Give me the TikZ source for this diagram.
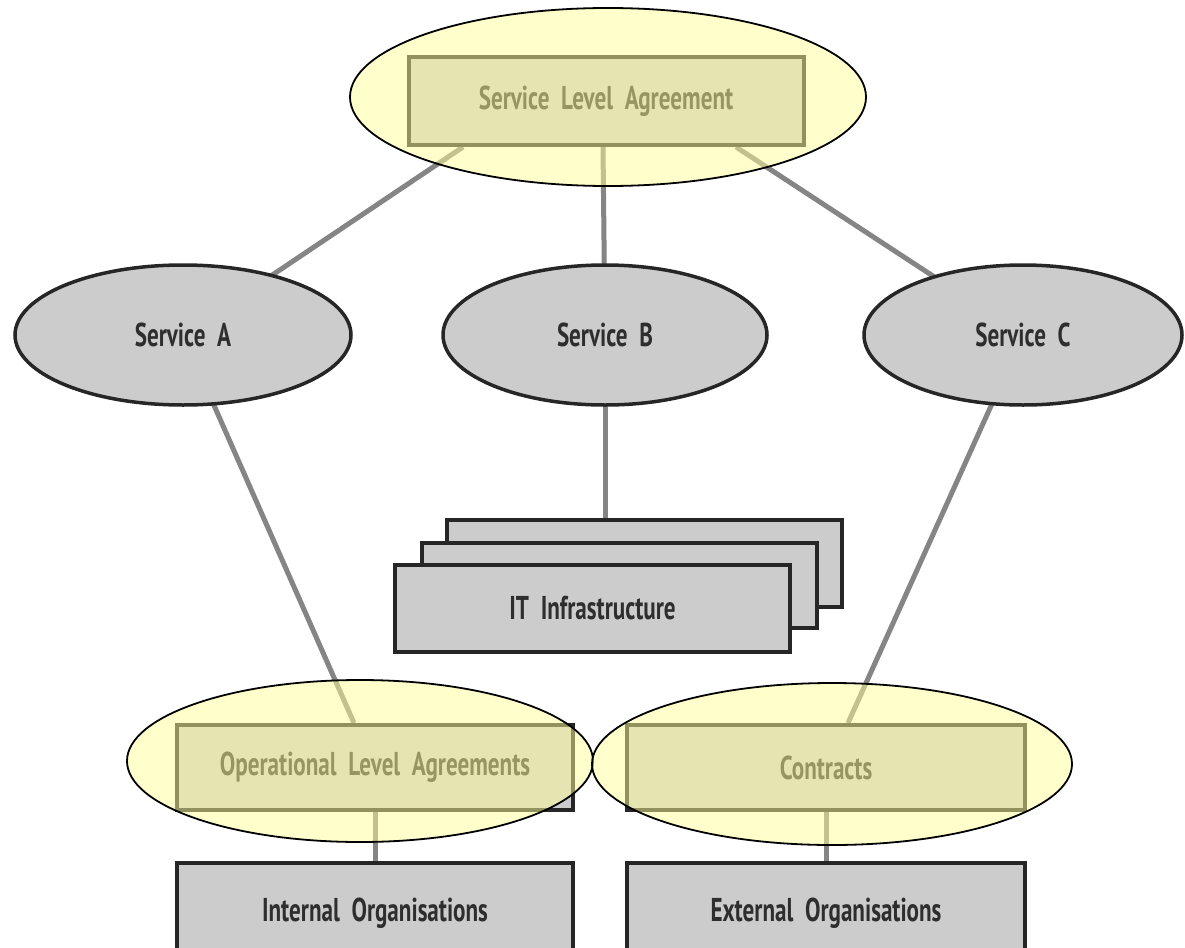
\documentclass[tikz,border=0pt]{standalone}
\usepackage{fontspec}
\setmainfont{PT Sans}[FakeStretch=0.70, WordSpace=2.0]
\usetikzlibrary{shapes.geometric,calc}
\pgfdeclarelayer{background}
\pgfsetlayers{background,main}
\definecolor{boxgray}{HTML}{CCCCCC}
\definecolor{linegray}{HTML}{858585}
\definecolor{txtdark}{HTML}{2E2E2E}
\definecolor{hiyellow}{HTML}{FFFF99}
\tikzset{
  every node/.style={font=\fontsize{33}{38}\selectfont\bfseries, text=txtdark},
  graybox/.style={draw=black!85, line width=4pt, fill=boxgray, rectangle, inner sep=0pt},
  grayell/.style={draw=black!85, line width=3.5pt, fill=boxgray, ellipse, inner sep=0pt},
  hiell/.style={ellipse, draw=black, line width=1.8pt, fill=hiyellow, fill opacity=0.5, draw opacity=1, inner sep=0pt},
  conn/.style={draw=linegray, line width=5pt},
}
\begin{document}
\begin{tikzpicture}[x=1pt,y=-1pt]
\useasboundingbox (0,0) rectangle (1185,947);
% agreements
\node[graybox, minimum width=395pt, minimum height=88pt] (sla) at (606,101) {Service Level Agreement};
\node[graybox, minimum width=396pt, minimum height=85pt] (ola) at (375,767.5) {Operational Level Agreements};
\node[graybox, minimum width=398pt, minimum height=85pt] (con) at (826,767.5) {Contracts};
% services
\node[grayell, minimum width=336pt, minimum height=140pt] (A) at (183,335) {Service A};
\node[grayell, minimum width=324pt, minimum height=140pt] (B) at (605,335) {Service B};
\node[grayell, minimum width=318pt, minimum height=140pt] (C) at (1023,335) {Service C};
% IT infrastructure stack
\node[graybox, minimum width=395pt, minimum height=87pt] (it3) at (644.5,563.5) {};
\node[graybox, minimum width=395pt, minimum height=85pt] (it2) at (619.5,585.5) {};
\node[graybox, minimum width=395pt, minimum height=87pt] (it1) at (592.5,608.5) {IT Infrastructure};
% organisations
\node[graybox, minimum width=396pt, minimum height=100pt] (int) at (375,913) {Internal Organisations};
\node[graybox, minimum width=398pt, minimum height=100pt] (ext) at (826,913) {External Organisations};
% white page and connectors behind the shapes
\begin{pgfonlayer}{background}
\fill[white] (0,0) rectangle (1185,947);
\draw[conn] ($(sla.south)+(-143,0)$) -- (A.center);
\draw[conn] ($(sla.south)+(-3,0)$) -- (B.center);
\draw[conn] ($(sla.south)+(130,0)$) -- (C.center);
\draw[conn] (A.center) -- ($(ola.north)+(-21,0)$);
\draw[conn] (C.center) -- ($(con.north)+(22,0)$);
\draw[conn] (B.center) -- (B.center |- it3.north);
\draw[conn] (ola.south) -- (ola.south |- int.north);
\draw[conn] (con.south) -- (con.south |- ext.north);
\end{pgfonlayer}
% highlight ellipses
\node[hiell, minimum width=516pt, minimum height=178pt] (slaE) at (608,97) {};
\node[hiell, minimum width=466pt, minimum height=162pt] (olaE) at (360,761) {};
\node[hiell, minimum width=480pt, minimum height=162pt] (conE) at (832,764) {};
\end{tikzpicture}
\end{document}
